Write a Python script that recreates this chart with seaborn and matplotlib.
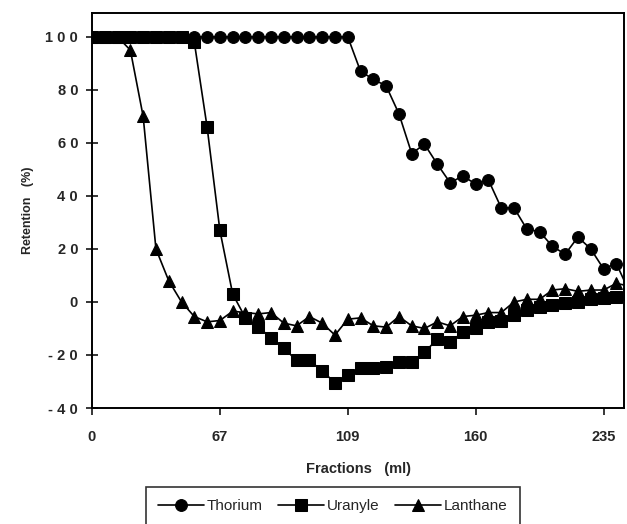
import numpy as np
import pandas as pd
import matplotlib
matplotlib.use("Agg")
import matplotlib.pyplot as plt
import seaborn as sns

# fraction index, tick labels every 10 fractions
tick_pos = [0, 10, 20, 30, 40]
tick_labels = ["0", "67", "109", "160", "235"]

thorium = [100] * 21 + [87, 84, 81.5, 71, 56, 59.5, 52, 45, 47.5, 44.5,
                        46, 35.5, 35.5, 27.5, 26.5, 21, 18, 24.5, 20, 12.5,
                        14.5, 4]
uranyle = [100] * 8 + [98, 66, 27, 3, -6, -9.5, -13.5, -17.5, -22, -22,
                       -26, -30.5, -27.5, -25, -25, -24.5, -22.5, -22.5, -19, -14,
                       -15, -11.5, -10, -7.5, -7, -5, -3, -2, -1, -0.5,
                       0, 1, 1.5, 2, 3]
lanthane = [100] * 3 + [95, 70, 20, 8, 0, -5.5, -7.5, -7, -3.5, -4,
                        -4.5, -4, -8, -9, -5.5, -8, -12.5, -6.5, -6, -9,
                        -9.5, -5.5, -9, -10, -7.5, -9, -5.5, -5, -4, -4,
                        0, 1, 1, 4.5, 5, 4, 4.5, 4.5, 7, 6]

series = {"Thorium": thorium, "Uranyle": uranyle, "Lanthane": lanthane}
df = pd.concat([pd.DataFrame({"idx": np.arange(len(v)), "ret": v, "Element": k})
                for k, v in series.items()], ignore_index=True)

sns.set_style("ticks")
plt.rcParams["font.family"] = ["Liberation Sans", "DejaVu Sans"]

fig = plt.figure(figsize=(6.27, 5.24), dpi=100)
ax = fig.add_axes([92 / 627, 116 / 524, 532 / 627, 395 / 524])

sns.lineplot(data=df, x="idx", y="ret", hue="Element", style="Element",
             markers={"Thorium": "o", "Uranyle": "s", "Lanthane": "^"},
             dashes=False, palette=["black"] * 3, linewidth=1.2,
             markersize=8.5, markeredgecolor="black", ax=ax)

ax.set_xlim(0, 41.6)
ax.set_ylim(-40, 109)
ax.set_xticks(tick_pos)
ax.set_xticklabels(tick_labels)
ax.set_yticks(range(-40, 101, 20))
ax.set_yticklabels(["- 4 0", "- 2 0", "0", "2 0", "4 0", "6 0", "8 0", "1 0 0"])
ax.tick_params(axis="y", direction="inout", length=8, width=1.3, labelsize=10.5, pad=6)
ax.tick_params(axis="x", direction="out", length=5, width=1.3, labelsize=10.5, pad=11)
for lab in ax.get_xticklabels() + ax.get_yticklabels():
    lab.set_fontweight("bold")
for sp in ax.spines.values():
    sp.set_linewidth(1.4)
    sp.set_color("black")

ax.set_xlabel("Fractions   (ml)", fontsize=10.5, fontweight="bold", labelpad=13)
ax.set_ylabel("Retention   (%)", fontsize=9, fontweight="bold", labelpad=8)

ax.legend_.remove()
h, l = ax.get_legend_handles_labels()
leg = fig.legend(h, l, loc="upper center", bbox_to_anchor=(333 / 627, 37 / 524),
                 ncol=3, frameon=True, fancybox=False, edgecolor="black",
                 fontsize=11, handlelength=3, columnspacing=1.0, handletextpad=0.2,
                 borderpad=0.8, borderaxespad=0)
leg.get_frame().set_linewidth(1.2)

fig.savefig("out.png", dpi=100)
